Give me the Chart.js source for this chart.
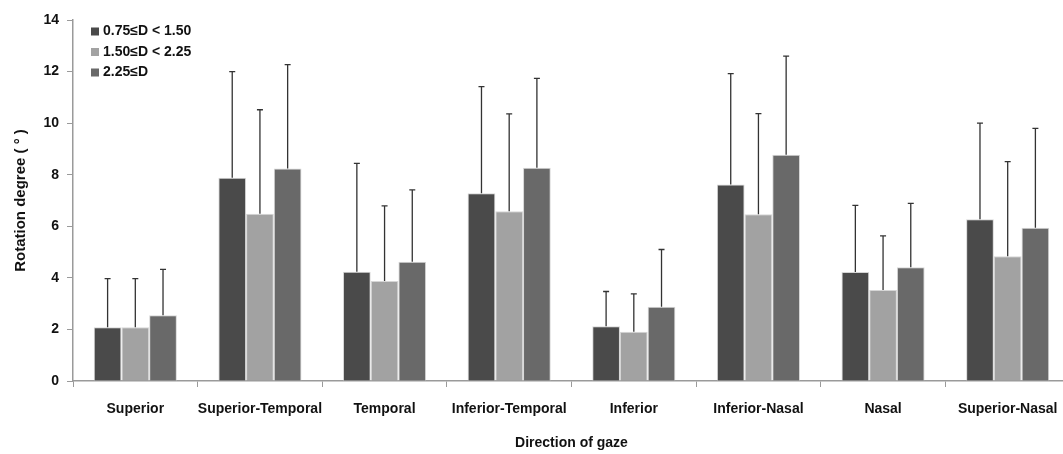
<!DOCTYPE html>
<html>
<head>
<meta charset="utf-8">
<script src="https://cdn.jsdelivr.net/npm/chart.js@4/dist/chart.umd.min.js"></script>
<style>
  html, body { margin: 0; padding: 0; background: #fff; overflow: hidden; }
  #wrap { width: 1072px; height: 454px; }
</style>
</head>
<body>
<div id="wrap"><canvas id="chart"></canvas></div>
<script>
const categories = ['Superior', 'Superior-Temporal', 'Temporal', 'Inferior-Temporal',
                    'Inferior', 'Inferior-Nasal', 'Nasal', 'Superior-Nasal'];
const seriesNames = ['0.75\u2264D < 1.50', '1.50\u2264D < 2.25', '2.25\u2264D'];

// mean rotation per group
const lowMean  = [2.08, 7.88, 4.24, 7.28, 2.12, 7.62, 4.23, 6.27];
const midMean  = [2.08, 6.49, 3.88, 6.58, 1.91, 6.47, 3.53, 4.84];
const highMean = [2.55, 8.24, 4.62, 8.27, 2.88, 8.77, 4.41, 5.94];

// upper end of the error bar (mean + SD)
const lowUpper  = [3.97, 12.0, 8.44, 11.42, 3.47, 11.92, 6.81, 10.0];
const midUpper  = [3.97, 10.52, 6.79, 10.36, 3.38, 10.37, 5.63, 8.51];
const highUpper = [4.33, 12.27, 7.41, 11.74, 5.1, 12.6, 6.89, 9.8];

const yTicks = [0, 2, 4, 6, 8, 10, 12, 14];

const colors = ['#4a4a4a', '#a2a2a2', '#696969'];
const FONT = '"Liberation Sans", Arial, sans-serif';

// upward-only error bars with a small cap
const errorBars = {
  id: 'errorBars',
  afterDatasetsDraw(chart) {
    const ctx = chart.ctx;
    const y = chart.scales.y;
    ctx.save();
    ctx.strokeStyle = '#333';
    ctx.lineWidth = 1.3;
    chart.data.datasets.forEach((ds, i) => {
      chart.getDatasetMeta(i).data.forEach((bar, j) => {
        const top = y.getPixelForValue(ds.upper[j]);
        ctx.beginPath();
        ctx.moveTo(bar.x, bar.y);
        ctx.lineTo(bar.x, top);
        ctx.moveTo(bar.x - 3, top);
        ctx.lineTo(bar.x + 3, top);
        ctx.stroke();
      });
    });
    ctx.restore();
  }
};

// legend drawn inside the plot, top-left
const innerLegend = {
  id: 'innerLegend',
  afterDraw(chart) {
    const ctx = chart.ctx;
    ctx.save();
    ctx.font = 'bold 14px ' + FONT;
    ctx.textBaseline = 'middle';
    chart.data.datasets.forEach((ds, i) => {
      const cy = 31.5 + i * 20.5;
      ctx.fillStyle = ds.backgroundColor;
      ctx.fillRect(91, cy - 4, 8, 8);
      ctx.fillStyle = '#111';
      ctx.fillText(ds.label, 103, cy);
    });
    ctx.restore();
  }
};

new Chart(document.getElementById('chart'), {
  type: 'bar',
  data: {
    labels: categories,
    datasets: [
      { label: seriesNames[0], data: lowMean,  upper: lowUpper,  backgroundColor: colors[0] },
      { label: seriesNames[1], data: midMean,  upper: midUpper,  backgroundColor: colors[1] },
      { label: seriesNames[2], data: highMean, upper: highUpper, backgroundColor: colors[2] },
    ].map(d => Object.assign(d, {
      borderColor: '#d6d6d6', borderWidth: 1,
      categoryPercentage: 0.667, barPercentage: 1.0,
    })),
  },
  options: {
    responsive: true,
    maintainAspectRatio: false,
    animation: false,
    layout: { padding: { top: 20, right: 2, left: 8, bottom: 0 } },
    plugins: { legend: { display: false }, tooltip: { enabled: false } },
    scales: {
      x: {
        grid: { offset: true, drawOnChartArea: false, drawTicks: true, tickLength: 6, color: '#9a9a9a' },
        border: { color: '#9a9a9a', width: 1.5 },
        ticks: { color: '#111', font: { family: FONT, size: 14, weight: 'bold' }, padding: 14,
                 maxRotation: 0, autoSkip: false },
        title: { display: true, text: 'Direction of gaze', color: '#111',
                 font: { family: FONT, size: 14, weight: 'bold' }, padding: { top: 18, bottom: 2 } },
        afterFit: s => { s.height = 73; },
      },
      y: {
        min: 0, max: 14,
        afterBuildTicks: s => { s.ticks = yTicks.map(v => ({ value: v })); },
        grid: { drawOnChartArea: false, drawTicks: true, tickLength: 6, color: '#9a9a9a' },
        border: { color: '#9a9a9a', width: 1.5 },
        ticks: { color: '#111', font: { family: FONT, size: 14, weight: 'bold' }, padding: 8 },
        title: { display: true, text: 'Rotation degree ( \u00b0 )', color: '#111',
                 font: { family: FONT, size: 15, weight: 'bold' }, padding: { bottom: 14 } },
        afterFit: s => { s.width = 65; },
      },
    },
  },
  plugins: [errorBars, innerLegend],
});
</script>
</body>
</html>
